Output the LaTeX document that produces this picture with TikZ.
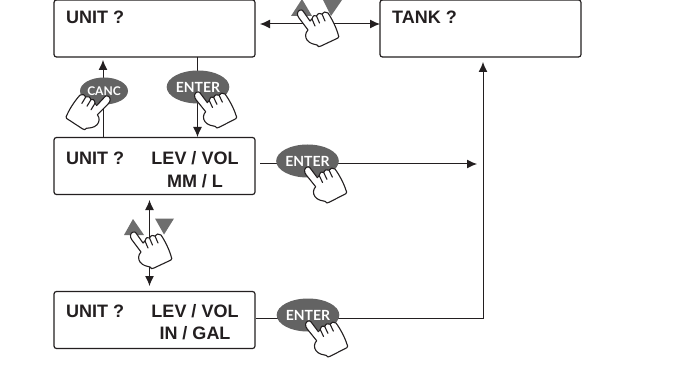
\documentclass[tikz,border=0pt]{standalone}
\usepackage{fontspec}
\setmainfont{Liberation Sans}
\newfontfamily\keyfont{Lato}
\usetikzlibrary{arrows.meta,shapes.geometric}
\definecolor{ink}{HTML}{231F20}
\definecolor{keygrey}{HTML}{636363}
\definecolor{trigrey}{HTML}{6E6E6E}
\tikzset{
  x=1pt,y=-1pt,
  lcd/.style={draw=ink,line width=1.2pt,rounded corners=2.5pt,minimum width=201pt,minimum height=57pt,inner sep=0pt,fill=white},
  lcdtext/.style={font=\bfseries\fontsize{18}{18}\selectfont,text=ink,inner sep=0pt,anchor=base west},
  lcdmid/.style={font=\bfseries\fontsize{18}{18}\selectfont,text=ink,inner sep=0pt,anchor=base},
  wire/.style={draw=ink,line width=1pt},
  arr/.style={wire,-{Latex[length=10pt,width=9pt]}},
  darr/.style={wire,{Latex[length=10pt,width=9pt]}-{Latex[length=10pt,width=9pt]}},
  keyoval/.style={ellipse,fill=keygrey,minimum width=59pt,minimum height=33pt,inner sep=0pt,text=white,font=\keyfont\bfseries\fontsize{14}{14}\selectfont},
  canckey/.style={ellipse,fill=keygrey,minimum width=48pt,minimum height=27pt,inner sep=0pt,text=white,font=\keyfont\bfseries\fontsize{12}{12}\selectfont},
  tri/.style={fill=trigrey,draw=none},
  pics/hand/.style={code={
    \draw[ink,line width=1.1pt,fill=white,line join=round,line cap=round]
      (-2.5,2) .. controls (-3,4) and (-2,5) .. (-1,7)
      -- (8,19)
      .. controls (5,22) and (5,26) .. (7,29)
      .. controls (10,33) and (14,33) .. (17,34)
      .. controls (18,36) and (19,36) .. (21,35)
      -- (38,27)
      .. controls (39,26) and (39,25) .. (38,23)
      .. controls (36,16) and (32,8) .. (28,2)
      .. controls (26,0) and (23,1) .. (22,3)
      .. controls (20,2) and (18,2) .. (16.5,5)
      .. controls (15,4) and (13,4) .. (12,8)
      -- (10,10)
      -- (3,0)
      .. controls (2,-2) and (-2,-1) .. (-2.5,2) -- cycle;
    \draw[ink,line width=1.1pt,line cap=round]
      (12,8) -- (15,15)
      (16.5,5) -- (19.5,12)
      (22,3) -- (25,10);
  }}
}
\begin{document}
\begin{tikzpicture}
\useasboundingbox (0,0) rectangle (682,366);
\fill[white] (0,0) rectangle (682,366);

% boxes
\node[lcd] (unitA) at (154.5,28.5) {};
\node[lcd] (tank) at (480.5,28.5) {};
\node[lcd] (unitB) at (154.5,166) {};
\node[lcd] (unitC) at (154.5,320) {};

% free ends of connectors
\coordinate (aL) at (260,24);
\coordinate (tL) at (380,24);
\coordinate (bR) at (260,164);
\coordinate (bEnd) at (477,164);
\coordinate (cCorner) at (483,318);
\coordinate (tIn) at (483,62);
\coordinate (vTop) at (149.5,200);
\coordinate (vBot) at (149.5,286);
\coordinate (cancTop) at (103,60);
\coordinate (cancBot) at (103,137);
\coordinate (entTop) at (197.5,57);
\coordinate (entBot) at (197.5,137);

% connectors
\draw[darr] (aL) -- (tL);
\draw[arr] (cancBot) -- (cancTop);
\draw[arr] (entTop) -- (entBot);
\draw[arr] (bR) -- (bEnd);
\draw[arr] (unitC.east |- cCorner) -- (cCorner) -- (tIn);
\draw[darr] (vBot) -- (vTop);

% texts
\node[lcdtext] (t1) at (66,24) {UNIT ?};
\node[lcdtext] (t2) at (392,24) {TANK ?};
\node[lcdtext] (t3) at (66,165) {UNIT ?};
\node[lcdmid] (t4) at (195,165) {LEV / VOL};
\node[lcdmid] (t5) at (195,187) {MM / L};
\node[lcdtext] (t6) at (66,317) {UNIT ?};
\node[lcdmid] (t7) at (195,317) {LEV / VOL};
\node[lcdmid] (t8) at (195,339) {IN / GAL};

% top up/down keys
\fill[tri] (291,16) -- (302,-1) -- (312,16) -- cycle;
\fill[tri] (323,0) -- (342,0) -- (331,16) -- cycle;
\pic at (300,11) {hand};

% CANC key
\node[canckey] (canc) at (104,91) {CANC};
\pic[xscale=-1,rotate=8] at (108,97) {hand};

% ENTER keys
\node[keyoval] (entA) at (198,87) {ENTER};
\pic[rotate=2] at (197,93) {hand};
\node[keyoval] (entB) at (307.5,161) {ENTER};
\pic[rotate=2] at (307,168) {hand};
\node[keyoval] (entC) at (308,315) {ENTER};
\pic[rotate=2] at (308,322) {hand};

% middle up/down keys
\fill[tri] (124,235) -- (133,219) -- (144,235) -- cycle;
\fill[tri] (155,218.5) -- (174,218.5) -- (164,234.5) -- cycle;
\pic at (133,233) {hand};
\end{tikzpicture}
\end{document}
